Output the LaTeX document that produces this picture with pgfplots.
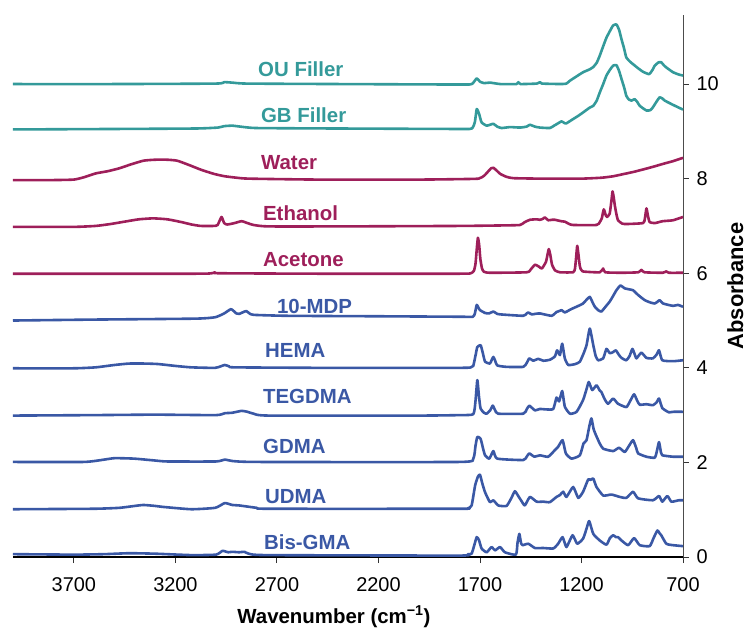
\documentclass[border=0pt]{standalone}
\usepackage{fontspec}
\setmainfont{Liberation Sans}
\usepackage{pgfplots}
\pgfplotsset{compat=1.18}
\definecolor{teal1}{RGB}{52,154,154}
\definecolor{maroon1}{RGB}{158,31,90}
\definecolor{blue1}{RGB}{58,88,165}
\begin{document}
\begin{tikzpicture}
\useasboundingbox (-13bp,-72bp) rectangle (737bp,557bp);
\begin{axis}[
  at={(0,0)}, anchor=south west,
  scale only axis, width=670bp, height=542bp,
  x dir=reverse, xmin=700, xmax=4000, ymin=0, ymax=11.46,
  axis x line*=bottom, axis y line*=right,
  x axis line style={-, black, line width=1.3bp},
  y axis line style={-, black!70, line width=0.9bp},
  xtick={700,1200,1700,2200,2700,3200,3700},
  ytick={0,2,4,6,8,10},
  tick align=outside, major tick length=6bp,
  tick style={black!80, line width=0.9bp},
  ticklabel style={font=\fontsize{20}{24}\selectfont},
  xticklabel style={yshift=-11bp},
  yticklabel style={xshift=4bp},
  /pgf/number format/assume math mode=true,
  /pgf/number format/1000 sep={},
  xlabel={\textbf{Wavenumber (cm\textsuperscript{−1})}},
  xlabel style={font=\fontsize{20.5}{24}\selectfont, at={(axis description cs:0.479,-0.122)}, anchor=base},
  ylabel={\textbf{Absorbance}},
  ylabel style={font=\fontsize{22}{26}\selectfont, at={(axis description cs:1.078,0.5)}, anchor=center, rotate=0},
  every axis plot/.append style={line width=2.6bp, line join=round, smooth, tension=0.3},
  clip=false,
]
% Bis-GMA
\addplot[blue1] coordinates {(4000,0.06) (3700,0.05) (3550,0.06) (3428,0.08) (3300,0.07) (3122,0.04) (3000,0.05) (2968,0.13) (2940,0.1) (2920,0.11) (2886,0.1) (2860,0.11) (2839,0.07) (2750,0.04) (1800,0.03) (1760,0.06) (1741,0.07) (1728,0.25) (1716,0.42) (1705,0.36) (1692,0.18) (1667,0.1) (1643,0.21) (1626,0.14) (1601,0.21) (1577,0.1) (1523,0.05) (1515,0.3) (1506,0.49) (1498,0.3) (1490,0.25) (1462,0.28) (1429,0.19) (1388,0.19) (1339,0.18) (1315,0.28) (1293,0.42) (1274,0.21) (1244,0.46) (1221,0.28) (1192,0.39) (1175,0.6) (1162,0.76) (1142,0.49) (1110,0.35) (1077,0.26) (1060,0.4) (1044,0.46) (1030,0.42) (1020,0.42) (1003,0.35) (970,0.25) (941,0.40) (913,0.25) (864,0.23) (845,0.4) (826,0.56) (815,0.5) (807,0.46) (782,0.28) (749,0.25) (700,0.23)};
% UDMA
\addplot[blue1] coordinates {(4000,1.01) (3600,1.02) (3475,1.04) (3400,1.08) (3357,1.10) (3300,1.08) (3263,1.06) (3122,1.01) (3004,1.04) (2957,1.14) (2920,1.1) (2886,1.09) (2800,1.04) (2744,1.02) (1800,1.02) (1760,1.03) (1741,1.09) (1724,1.51) (1710,1.7) (1700,1.74) (1688,1.55) (1675,1.37) (1651,1.16) (1634,1.2) (1610,1.09) (1569,1.08) (1545,1.25) (1528,1.39) (1510,1.28) (1495,1.18) (1479,1.09) (1454,1.27) (1421,1.17) (1388,1.17) (1356,1.16) (1323,1.27) (1306,1.31) (1290,1.38) (1274,1.27) (1241,1.48) (1216,1.25) (1192,1.38) (1167,1.64) (1155,1.63) (1142,1.66) (1126,1.48) (1093,1.3) (1052,1.32) (1011,1.27) (979,1.25) (946,1.38) (921,1.24) (848,1.2) (818,1.29) (802,1.17) (777,1.29) (757,1.17) (720,1.2) (700,1.2)};
% GDMA
\addplot[blue1] coordinates {(4000,2.01) (3650,2.01) (3550,2.06) (3499,2.09) (3404,2.08) (3300,2.04) (3240,2.02) (3000,2.02) (2957,2.06) (2920,2.03) (2800,2.01) (1800,2.01) (1733,2.08) (1722,2.35) (1713,2.54) (1697,2.5) (1685,2.3) (1675,2.15) (1654,2.08) (1634,2.24) (1615,2.08) (1487,2.05) (1470,2.12) (1457,2.19) (1432,2.12) (1405,2.15) (1364,2.12) (1331,2.26) (1315,2.33) (1293,2.47) (1277,2.19) (1249,2.08) (1208,2.15) (1190,2.4) (1175,2.47) (1162,2.75) (1151,2.93) (1140,2.7) (1129,2.58) (1110,2.4) (1093,2.29) (1044,2.24) (1015,2.31) (987,2.22) (966,2.35) (946,2.47) (930,2.3) (921,2.19) (880,2.12) (839,2.1) (828,2.25) (818,2.43) (808,2.2) (802,2.15) (749,2.12) (700,2.12)};
% TEGDMA
\addplot[blue1] coordinates {(4000,2.99) (3600,3.0) (3300,3.01) (3000,3.0) (2957,3.04) (2920,3.05) (2874,3.09) (2845,3.07) (2815,3.03) (2740,2.99) (2000,2.99) (1800,3.0) (1733,3.02) (1722,3.3) (1713,3.74) (1705,3.4) (1697,3.14) (1680,3.05) (1667,3.03) (1650,3.1) (1637,3.2) (1625,3.1) (1610,3.03) (1487,3.03) (1470,3.12) (1457,3.2) (1429,3.1) (1405,3.13) (1372,3.12) (1339,3.13) (1323,3.37) (1310,3.29) (1295,3.51) (1282,3.18) (1257,3.03) (1224,3.07) (1192,3.32) (1175,3.55) (1164,3.70) (1147,3.53) (1126,3.63) (1110,3.52) (1102,3.49) (1085,3.33) (1069,3.24) (1044,3.35) (1020,3.24) (979,3.17) (960,3.3) (941,3.44) (925,3.3) (913,3.22) (880,3.23) (848,3.21) (830,3.27) (818,3.35) (802,3.15) (770,3.06) (749,3.07) (700,3.07)};
% HEMA
\addplot[blue1] coordinates {(4000,3.99) (3700,3.99) (3593,4.01) (3500,4.06) (3428,4.09) (3350,4.09) (3286,4.08) (3200,4.04) (3122,4.01) (3004,4.0) (2957,4.06) (2935,4.03) (2909,4.01) (2500,4.0) (1800,4.0) (1745,4.01) (1733,4.04) (1720,4.3) (1713,4.44) (1697,4.48) (1688,4.35) (1675,4.13) (1651,4.09) (1642,4.17) (1634,4.23) (1625,4.15) (1615,4.05) (1569,4.02) (1487,4.02) (1470,4.1) (1457,4.20) (1438,4.15) (1413,4.19) (1388,4.15) (1356,4.17) (1331,4.24) (1320,4.37) (1306,4.27) (1295,4.51) (1282,4.2) (1265,4.06) (1230,4.08) (1208,4.13) (1190,4.3) (1175,4.48) (1159,4.83) (1142,4.48) (1130,4.25) (1118,4.16) (1093,4.2) (1077,4.4) (1061,4.31) (1045,4.33) (1031,4.37) (1015,4.27) (1003,4.21) (979,4.16) (963,4.25) (949,4.40) (935,4.25) (929,4.2) (905,4.32) (880,4.21) (848,4.2) (830,4.28) (818,4.37) (802,4.16) (749,4.14) (700,4.16)};
% 10-MDP
\addplot[blue1] coordinates {(4000,5.0) (3600,5.02) (3100,5.04) (3004,5.07) (2960,5.15) (2926,5.24) (2900,5.15) (2886,5.14) (2870,5.17) (2851,5.2) (2835,5.15) (2815,5.12) (2650,5.1) (2200,5.09) (1800,5.08) (1735,5.08) (1725,5.15) (1716,5.33) (1705,5.25) (1700,5.22) (1675,5.16) (1655,5.15) (1634,5.19) (1615,5.14) (1601,5.13) (1487,5.1) (1470,5.15) (1462,5.17) (1445,5.13) (1429,5.14) (1405,5.15) (1347,5.1) (1323,5.18) (1310,5.2) (1298,5.22) (1282,5.17) (1260,5.22) (1241,5.26) (1215,5.31) (1192,5.36) (1175,5.44) (1159,5.5) (1145,5.38) (1134,5.29) (1118,5.22) (1102,5.19) (1080,5.3) (1061,5.40) (1044,5.52) (1028,5.64) (1008,5.74) (987,5.68) (966,5.66) (946,5.64) (921,5.54) (888,5.43) (860,5.38) (839,5.36) (825,5.40) (815,5.43) (798,5.36) (749,5.31) (725,5.33) (700,5.29)};
% Acetone
\addplot[maroon1] coordinates {(4000,5.99) (3100,5.99) (3020,6.0) (3004,6.02) (2990,6.0) (2500,5.99) (1800,5.99) (1745,6.0) (1730,6.05) (1722,6.2) (1715,6.55) (1710,6.75) (1704,6.6) (1698,6.3) (1690,6.1) (1680,6.03) (1650,6.01) (1470,6.02) (1450,6.08) (1429,6.18) (1410,6.14) (1395,6.1) (1375,6.24) (1367,6.4) (1361,6.51) (1354,6.4) (1345,6.18) (1330,6.06) (1306,6.02) (1241,6.02) (1232,6.1) (1226,6.35) (1221,6.58) (1215,6.4) (1208,6.15) (1195,6.04) (1110,6.02) (1093,6.1) (1083,6.02) (1000,6.01) (920,6.02) (905,6.07) (890,6.02) (800,6.01) (782,6.04) (770,6.01) (700,6.01)};
% Ethanol
\addplot[maroon1] coordinates {(4000,6.98) (3700,6.98) (3593,7.0) (3520,7.04) (3451,7.09) (3380,7.14) (3310,7.16) (3240,7.14) (3169,7.08) (3120,7.03) (3075,7.0) (3010,7.0) (2992,7.02) (2973,7.19) (2960,7.06) (2945,7.03) (2909,7.06) (2874,7.1) (2845,7.06) (2815,7.02) (2744,6.99) (2400,6.99) (1800,7.0) (1600,7.01) (1503,7.02) (1480,7.08) (1454,7.13) (1420,7.14) (1405,7.13) (1390,7.15) (1380,7.18) (1364,7.12) (1345,7.13) (1331,7.13) (1300,7.1) (1282,7.09) (1260,7.04) (1241,7.02) (1126,7.02) (1110,7.08) (1100,7.16) (1090,7.35) (1080,7.22) (1074,7.19) (1061,7.26) (1052,7.55) (1047,7.73) (1041,7.6) (1036,7.44) (1028,7.25) (1020,7.12) (1000,7.05) (979,7.04) (897,7.06) (888,7.15) (880,7.37) (872,7.2) (864,7.08) (839,7.06) (800,7.1) (749,7.12) (700,7.19)};
% Water
\addplot[maroon1] coordinates {(4000,7.97) (3800,7.97) (3700,7.98) (3650,8.03) (3593,8.11) (3530,8.16) (3475,8.22) (3420,8.3) (3357,8.38) (3300,8.4) (3240,8.40) (3192,8.38) (3140,8.3) (3075,8.19) (3010,8.1) (2957,8.05) (2900,8.02) (2839,8.0) (2500,7.98) (2000,7.98) (1800,7.99) (1707,8.0) (1680,8.06) (1660,8.15) (1645,8.22) (1634,8.23) (1620,8.18) (1600,8.1) (1570,8.04) (1536,8.01) (1400,8.0) (1200,8.0) (1100,8.02) (1044,8.05) (1000,8.09) (946,8.14) (900,8.19) (848,8.25) (800,8.31) (749,8.37) (700,8.44)};
% GB Filler
\addplot[teal1] coordinates {(4000,9.04) (3500,9.05) (3100,9.06) (2990,9.08) (2960,9.11) (2920,9.12) (2880,9.1) (2800,9.07) (2400,9.06) (1800,9.05) (1740,9.06) (1725,9.2) (1716,9.47) (1705,9.38) (1692,9.19) (1667,9.12) (1650,9.14) (1634,9.16) (1615,9.1) (1593,9.07) (1552,9.09) (1503,9.08) (1470,9.1) (1454,9.14) (1430,9.1) (1405,9.08) (1356,9.07) (1335,9.12) (1323,9.15) (1298,9.21) (1282,9.17) (1274,9.17) (1241,9.26) (1215,9.33) (1192,9.40) (1160,9.5) (1142,9.54) (1125,9.65) (1110,9.82) (1093,10.0) (1077,10.18) (1060,10.3) (1044,10.39) (1028,10.40) (1015,10.28) (1003,10.11) (990,9.93) (979,9.75) (966,9.67) (954,9.65) (938,9.68) (925,9.62) (913,9.54) (880,9.44) (860,9.45) (848,9.51) (830,9.63) (815,9.72) (800,9.69) (790,9.65) (749,9.56) (720,9.5) (700,9.46)};
% OU Filler
\addplot[teal1] coordinates {(4000,10.0) (3500,10.0) (3000,10.01) (2960,10.04) (2920,10.03) (2850,10.01) (2400,10.0) (1800,9.99) (1740,10.0) (1716,10.12) (1700,10.05) (1680,10.02) (1650,10.03) (1600,10.0) (1520,10.0) (1511,10.04) (1500,10.0) (1420,10.01) (1405,10.04) (1395,10.01) (1300,10.0) (1274,10.01) (1257,10.07) (1225,10.16) (1192,10.25) (1160,10.31) (1142,10.36) (1125,10.45) (1110,10.6) (1093,10.8) (1077,10.98) (1060,11.12) (1044,11.24) (1028,11.26) (1015,11.15) (1003,10.95) (990,10.75) (979,10.56) (960,10.47) (946,10.42) (920,10.33) (897,10.26) (867,10.21) (850,10.3) (839,10.39) (820,10.46) (807,10.46) (795,10.40) (782,10.35) (749,10.25) (720,10.2) (700,10.18)};
% labels
\begin{scope}[every node/.style={anchor=west, inner sep=0pt, font=\fontsize{20.5}{24}\selectfont\bfseries}]
\node[text=teal1] at (axis cs:2793,10.32) {OU Filler};
\node[text=teal1] at (axis cs:2779,9.34) {GB Filler};
\node[text=maroon1] at (axis cs:2779,8.33) {Water};
\node[text=maroon1] at (axis cs:2769,7.27) {Ethanol};
\node[text=maroon1] at (axis cs:2769,6.28) {Acetone};
\node[text=blue1] at (axis cs:2700,5.29) {10-MDP};
\node[text=blue1] at (axis cs:2759,4.36) {HEMA};
\node[text=blue1] at (axis cs:2769,3.40) {TEGDMA};
\node[text=blue1] at (axis cs:2769,2.33) {GDMA};
\node[text=blue1] at (axis cs:2759,1.27) {UDMA};
\node[text=blue1] at (axis cs:2764,0.32) {Bis-GMA};
\end{scope}
\end{axis}
\end{tikzpicture}
\end{document}
